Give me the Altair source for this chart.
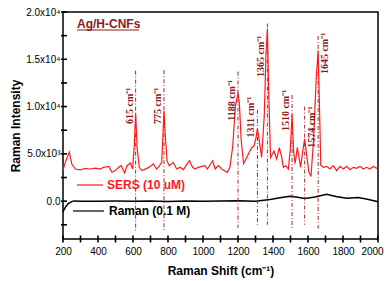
import altair as alt
import pandas as pd

# SERS spectrum (10 uM)
sers_x = [200, 215, 236, 251, 270, 299, 327, 356, 385, 413, 432, 461, 480, 499, 518, 533,
          552, 566, 585, 598, 607, 615, 624, 636, 651, 680, 699, 716, 735, 750, 764, 770,
          777, 785, 795, 808, 830, 850, 869, 888, 922, 941, 954, 973, 992, 1011, 1025, 1055,
          1070, 1088, 1107, 1139, 1154, 1170, 1185, 1200, 1208, 1218, 1232, 1259, 1278, 1291,
          1303, 1311, 1322, 1335, 1350, 1360, 1368, 1376, 1386, 1406, 1421, 1436, 1450, 1459,
          1473, 1488, 1499, 1509, 1518, 1526, 1539, 1558, 1570, 1581, 1592, 1605, 1617, 1632,
          1647, 1658, 1665, 1673, 1688, 1707, 1726, 1745, 1764, 1783, 1802, 1821, 1840, 1859,
          1878, 1897, 1916, 1935, 1954, 1973, 1992, 2000]
sers_y = [3300, 4200, 5200, 3900, 3400, 3300, 3470, 3400, 3500, 3400, 3580, 3680, 3050, 3230, 3580, 3750,
          2990, 3750, 4030, 3400, 5800, 9300, 5600, 3580, 3230, 3470, 3680, 3930, 3400, 3700, 4100, 6500,
          9550, 6800, 4200, 3750, 4100, 3400, 3580, 3340, 4270, 3580, 3400, 3580, 3680, 3750, 3400, 4270,
          3400, 3750, 3400, 3050, 3580, 5800, 10000, 11460, 10300, 6500, 3960, 4970, 5660, 5830,
          6700, 7680, 6350, 4620, 9000, 15500, 18230, 11000, 4620, 5310, 4450, 5660, 4620, 3580,
          3750, 3400, 5500, 9130, 5200, 3960, 5660, 3580, 5300, 6600, 4900, 3100, 2600, 6500,
          13000, 15900, 10500, 3800, 3580, 3680, 3400, 3750, 3230, 3680, 3400, 3680, 3330, 3580,
          3470, 3680, 3400, 3580, 3400, 3680, 3470, 3580]

# Normal Raman spectrum (0.1 M)
raman_x = [200, 215, 230, 250, 262, 300, 400, 500, 600, 700, 800, 900, 1000, 1100, 1200, 1300,
           1383, 1440, 1497, 1540, 1583, 1640, 1707, 1760, 1821, 1887, 1940, 2000]
raman_y = [-1110, -600, -250, -50, 30, 0, -20, 10, 0, 20, -30, 10, 0, 20, 50, 0,
           170, 350, 520, 420, 280, 450, 730, 500, 310, 380, 200, -70]

# Peak annotations
peak_labels = ["615 cm⁻¹", "775 cm⁻¹", "1188 cm⁻¹", "1311 cm⁻¹", "1365 cm⁻¹",
               "1510 cm⁻¹", "1574 cm⁻¹", "1645 cm⁻¹"]
peak_pos = [615, 777, 1200, 1311, 1368, 1509, 1581, 1658]
peak_line_top = [13800, 13850, 13700, 9650, 18780, 11220, 10000, 17470]
peak_line_bottom = [-3200, -3200, -2850, -2500, -2500, -2900, -2500, -2900]
peak_label_top = [12000, 12000, 12800, 11040, 17500, 11770, 10000, 17800]
peak_label_side = ["left", "left", "left", "left", "left", "left", "right", "right"]

x_ticks = list(range(200, 2001, 100))
y_ticks = list(range(-2500, 20001, 2500))

sers = pd.DataFrame({"x": sers_x, "y": sers_y})
raman = pd.DataFrame({"x": raman_x, "y": raman_y})
peaks = pd.DataFrame({"label": peak_labels, "pos": peak_pos, "top": peak_line_top,
                      "bottom": peak_line_bottom, "ltop": peak_label_top,
                      "side": peak_label_side})
xt = pd.DataFrame({"xv": x_ticks})
yt = pd.DataFrame({"yv": y_ticks})

DARK = "#8B1A1A"
W, H = 315, 227

xscale = alt.Scale(domain=[200, 2000], nice=False, zero=False)
yscale = alt.Scale(domain=[-4000, 20000], nice=False, zero=False)

ylabel_expr = ("datum.value < 0 || datum.value % 5000 != 0 ? '' : datum.value == 0 ? '0.0' : "
               "format(datum.value / pow(10, floor(log(datum.value)/LN10 + 1e-9)), '.1f') + 'x10' + "
               "(floor(log(datum.value)/LN10 + 1e-9) == 3 ? '³' : '⁴')")


def build(last_label_shift):
    x_kw = dict(values=x_ticks,
                labelExpr="datum.value % 200 == 0 ? format(datum.value, 'd') : ''",
                title="Raman Shift (cm⁻¹)", domain=False, ticks=False, tickSize=0,
                labelOverlap=False, labelFlush=False, labelBound=False,
                labelPadding=7, labelFontSize=10, labelFont="Liberation Sans",
                labelColor="black",
                titleFont="Liberation Sans", titleFontSize=12, titleFontWeight="bold",
                titleColor="black", titleX=W / 2, titleY=31, titleBaseline="middle",
                grid=False, zindex=1)
    if last_label_shift:
        x_kw["labelOffset"] = {"condition": {"test": "datum.value == 2000", "value": -6},
                               "value": 0}
    x_axis = alt.Axis(**x_kw)
    y_axis = alt.Axis(values=y_ticks, labelExpr=ylabel_expr, title="Raman Intensity",
                      domain=False, ticks=False, tickSize=0,
                      labelOverlap=False, labelFlush=False, labelBound=False,
                      labelPadding=3, labelFontSize=10,
                      labelFont="Liberation Sans", labelColor="black",
                      titleFont="Liberation Sans", titleFontSize=12, titleFontWeight="bold",
                      titleColor="black", titleAngle=270, titleX=-44, titleY=H / 2,
                      titleBaseline="alphabetic", grid=False, zindex=1)

    def X(field):
        return alt.X(field, type="quantitative", scale=xscale, axis=x_axis)

    def Y(field):
        return alt.Y(field, type="quantitative", scale=yscale, axis=y_axis)

    raman_line = alt.Chart(raman).mark_line(color="black", strokeWidth=1.5).encode(
        x=X("x"), y=Y("y"))
    sers_line = alt.Chart(sers).mark_line(color="#FF1A1A", strokeWidth=1.2).encode(
        x=X("x"), y=Y("y"))
    peak_rules = alt.Chart(peaks).mark_rule(color="#A0282A", strokeWidth=1,
                                             strokeDash=[4, 2, 1, 2]).encode(
        x=X("pos"), y=Y("top"), y2="bottom:Q")
    label_style = dict(angle=270, align="right", font="Liberation Serif", fontSize=10,
                       fontWeight="bold", color=DARK)
    left_labels = alt.Chart(peaks).transform_filter("datum.side == 'left'").mark_text(
        baseline="bottom", dy=-1, **label_style).encode(x=X("pos"), y=Y("ltop"), text="label:N")
    right_labels = alt.Chart(peaks).transform_filter("datum.side == 'right'").mark_text(
        baseline="top", dy=2, **label_style).encode(x=X("pos"), y=Y("ltop"), text="label:N")

    # tick marks crossing the axis lines (short rules through each tick value)
    x_tickmarks = alt.Chart(xt).mark_rule(stroke="#000000", strokeWidth=1.6, opacity=1).encode(
        x=X("xv"), y=alt.value(H - 3.5), y2=alt.value(H + 3.5))
    y_tickmarks = alt.Chart(yt).mark_rule(stroke="#000000", strokeWidth=1.6, opacity=1).encode(
        y=Y("yv"), x=alt.value(-2), x2=alt.value(4))

    # sample title and legend
    title_txt = alt.Chart(pd.DataFrame({"t": ["Ag/H-CNFs"]})).mark_text(
        align="left", baseline="middle", font="Liberation Sans", fontSize=12, fontWeight="bold",
        color=DARK).encode(x=alt.value(14), y=alt.value(12), text="t:N")
    title_ul = alt.Chart(pd.DataFrame({"a": [0]})).mark_rule(color=DARK, strokeWidth=1.2).encode(
        x=alt.value(14), x2=alt.value(76), y=alt.value(18))

    leg_names = ["SERS (10 uM)", "Raman (0.1 M)"]
    leg_sers_line = alt.Chart(pd.DataFrame({"a": [0]})).mark_rule(
        color="#FF1A1A", strokeWidth=1.2).encode(x=alt.value(14), x2=alt.value(40), y=alt.value(173))
    leg_sers_txt = alt.Chart(pd.DataFrame({"t": [leg_names[0]]})).mark_text(
        align="left", baseline="middle", font="Liberation Sans", fontSize=12, fontWeight="bold",
        color="#FF1A1A").encode(x=alt.value(44), y=alt.value(173), text="t:N")
    leg_raman_line = alt.Chart(pd.DataFrame({"a": [0]})).mark_rule(
        color="black", strokeWidth=1.2).encode(x=alt.value(10), x2=alt.value(41), y=alt.value(199))
    leg_raman_txt = alt.Chart(pd.DataFrame({"t": [leg_names[1]]})).mark_text(
        align="left", baseline="middle", font="Liberation Sans", fontSize=12, fontWeight="bold",
        color="black").encode(x=alt.value(46), y=alt.value(199), text="t:N")

    return alt.layer(
        x_tickmarks, y_tickmarks,
        raman_line, peak_rules, sers_line, left_labels, right_labels,
        title_txt, title_ul, leg_sers_line, leg_sers_txt, leg_raman_line, leg_raman_txt
    ).properties(
        width=W, height=H,
        autosize=alt.AutoSizeParams(type="none"),
        padding={"left": 55, "top": 4, "right": 6, "bottom": 42},
        background="white",
    ).configure_view(stroke="black", strokeWidth=1.5)


try:
    chart = build(True)
    chart.to_dict()
except Exception:
    chart = build(False)

chart.save("out.html", embed_options={"renderer": "svg", "actions": False})
